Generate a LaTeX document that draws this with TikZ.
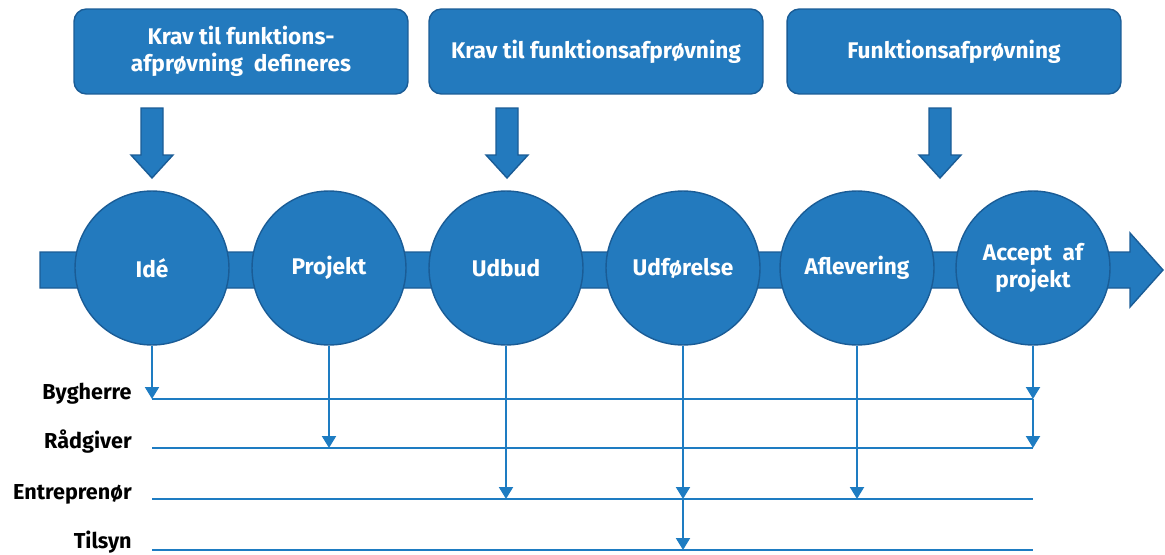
\documentclass[tikz,border=0pt]{standalone}
\usepackage{fontspec}
\setmainfont{Fira Sans}
\usetikzlibrary{arrows.meta}
\definecolor{fillblue}{RGB}{35,122,190}
\definecolor{edgeblue}{RGB}{26,92,150}
\definecolor{lineblue}{RGB}{30,124,194}
\begin{document}
\begin{tikzpicture}[x=0.02cm,y=-0.02cm,
  txt/.style={font=\fontsize{12.9}{15}\selectfont\bfseries},
  topbox/.style={txt, draw=edgeblue, fill=fillblue, line width=0.8pt, rounded corners=7pt,
    text=white, align=center, minimum width=6.68cm, minimum height=1.7cm, inner sep=0pt},
  phase/.style={txt, circle, draw=edgeblue, fill=fillblue, line width=0.8pt, text=white,
    align=center, minimum size=3.08cm, inner sep=0pt},
  blockarrow/.style={draw=edgeblue, fill=fillblue, line width=0.8pt, line join=miter},
  lab/.style={font=\fontsize{12.3}{14}\selectfont\bfseries, text=black, anchor=base east, inner sep=0pt},
  lane/.style={draw=lineblue, line width=1.2pt},
  conn/.style={draw=lineblue, line width=1.2pt, -{Triangle[width=0.28cm,length=0.24cm]}}]
\useasboundingbox (0,0) rectangle (1165,554);

% top boxes
\node[topbox] (b1) at (241,51.5) {Krav til funktions-\\afprøvning\ \ defineres};
\node[topbox] (b2) at (596,51.5) {Krav til funktionsafprøvning};
\node[topbox] (b3) at (954,51.5) {Funktionsafprøvning};

% block arrows down
\foreach \cx in {152,507,940}{
  \draw[blockarrow] (\cx-11,108) -- (\cx+11,108) -- (\cx+11,155) -- (\cx+21,155)
    -- (\cx,178) -- (\cx-21,155) -- (\cx-11,155) -- cycle;
}

% main timeline arrow
\draw[blockarrow] (40,252) -- (1130,252) -- (1130,233) -- (1163,270) -- (1130,307)
  -- (1130,288) -- (40,288) -- cycle;

% phases
\node[phase] (c1) at (152,268) {Idé};
\node[phase] (c2) at (329,268) {Projekt};
\node[phase] (c3) at (506,268) {Udbud};
\node[phase] (c4) at (683,268) {Udførelse};
\node[phase] (c5) at (857,268) {Aflevering};
\node[phase] (c6) at (1033,268) {Accept\ \ af\\projekt};

% lanes
\coordinate (byL) at (152,399);  \coordinate (byR) at (1033,399);
\coordinate (raL) at (152,448);  \coordinate (raR) at (1033,448);
\coordinate (enL) at (152,499);  \coordinate (enR) at (1033,499);
\coordinate (tiL) at (152,550);  \coordinate (tiR) at (1033,550);
\draw[lane] (byL) -- (byR);
\draw[lane] (raL) -- (raR);
\draw[lane] (enL) -- (enR);
\draw[lane] (tiL) -- (tiR);

\node[lab] (lby) at (132,399) {Bygherre};
\node[lab] (lra) at (132,448) {Rådgiver};
\node[lab] (len) at (132,499) {Entreprenør};
\node[lab] (lti) at (132,548) {Tilsyn};

% connectors
\draw[conn] (c1.south) -- (c1.south |- byL);
\draw[conn] (c2.south) -- (c2.south |- raL);
\draw[conn] (c3.south) -- (c3.south |- enL);
\coordinate (c4en) at (c4.south |- enL);
\draw[conn] (c4.south) -- (c4en);
\draw[conn] (c4en) -- (c4.south |- tiL);
\draw[conn] (c5.south) -- (c5.south |- enL);
\coordinate (c6by) at (c6.south |- byL);
\draw[conn] (c6.south) -- (c6by);
\draw[conn] (c6by) -- (c6.south |- raL);
\end{tikzpicture}
\end{document}
